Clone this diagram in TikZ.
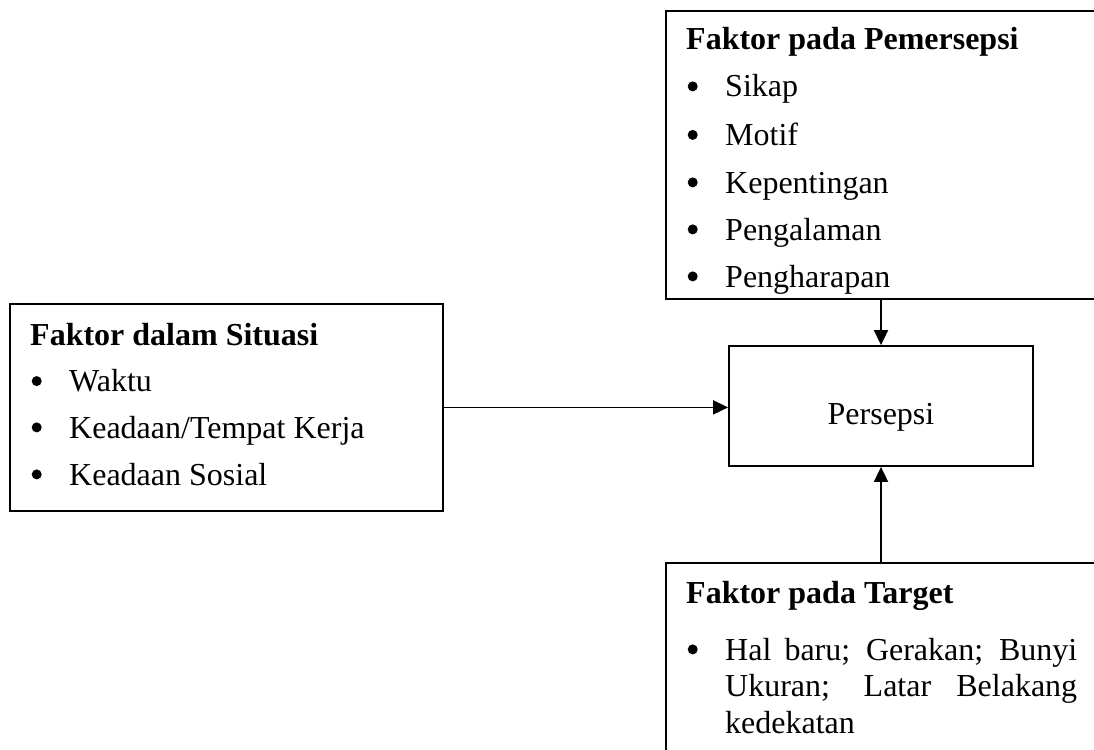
\documentclass[tikz,border=0pt]{standalone}
\usepackage{fontspec}
\setmainfont{Liberation Serif}
\usetikzlibrary{arrows.meta}
\newcommand\figfont{\fontsize{32}{38}\selectfont}
\newcommand\bulmark{\tikz[baseline=0pt]{\useasboundingbox (0pt,0pt) rectangle (12pt,1pt);\fill (6.5pt,10.6pt) circle (5pt);}}
\newcommand\bul{\makebox[39pt][l]{\bulmark}}
\begin{document}
\begin{tikzpicture}[x=1pt,y=-1pt,
  every node/.append style={font=\figfont},
  box/.style={draw, line width=1.8pt, rectangle, inner sep=0pt, anchor=north west},
  head/.style={anchor=base west, inner sep=0pt, font=\figfont\bfseries},
  item/.style={anchor=base west, inner sep=0pt},
  arr/.style={line width=1.8pt, -{Triangle[length=15pt,width=14pt]}}]
\useasboundingbox (0,0) rectangle (1094,749);
\clip (0,0) rectangle (1094,749);
% boxes
\node[box, minimum width=434pt, minimum height=288pt] (pem) at (665,10) {};
\node[box, minimum width=433pt, minimum height=207pt] (sit) at (9,303) {};
\node[box, anchor=center, minimum width=304pt, minimum height=120pt] (per) at (881,406) {};
\node[box, minimum width=434pt, minimum height=200pt] (tar) at (665,562) {};
% top box text
\node[head] (pemH) at (686,50) {Faktor pada Pemersepsi};
\node[item] (pem1) at (686,97) {\bul Sikap};
\node[item] (pem2) at (686,145.5) {\bul Motif};
\node[item] (pem3) at (686,193) {\bul Kepentingan};
\node[item] (pem4) at (686,240) {\bul Pengalaman};
\node[item] (pem5) at (686,287) {\bul Pengharapan};
% left box text
\node[head] (sitH) at (30,345) {Faktor dalam Situasi};
\node[item] (sit1) at (30,391.7) {\bul Waktu};
\node[item] (sit2) at (30,438) {\bul Keadaan/Tempat Kerja};
\node[item] (sit3) at (30,485) {\bul Keadaan Sosial};
% persepsi
\node[item, anchor=base] (perT) at (881,424) {Persepsi};
% bottom box text
\node[head] (tarH) at (686,603) {Faktor pada Target};
\node[item] (tarB) at (686,660) {\bulmark};
\node[item] (tarT) at (725,660) {\parbox[t]{352pt}{\fontsize{32}{36.7}\selectfont Hal baru; Gerakan; Bunyi\linebreak Ukuran; Latar Belakang\linebreak kedekatan}};
% arrows
\draw[arr] (sit.east) -- (sit.east -| per.west);
\draw[arr] (per.north |- pem.south) -- (per.north);
\draw[arr] (per.south |- tar.north) -- (per.south);
\end{tikzpicture}
\end{document}
